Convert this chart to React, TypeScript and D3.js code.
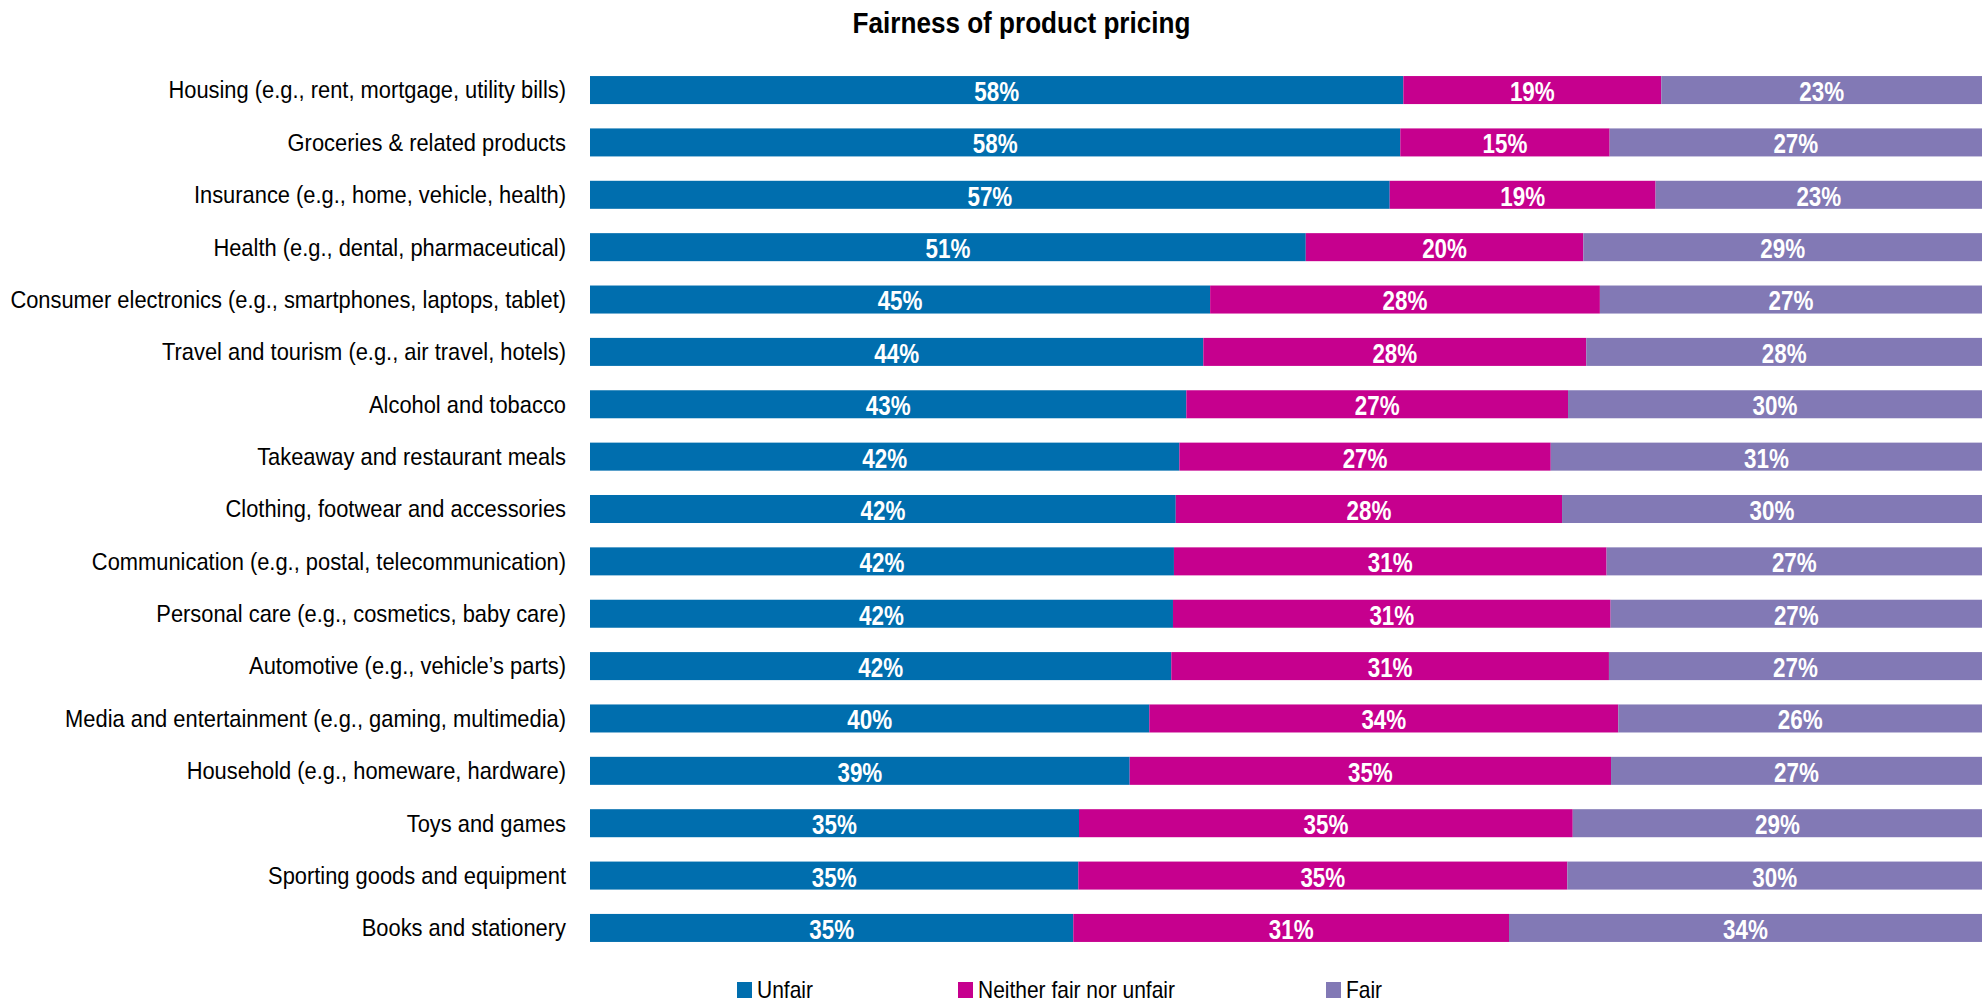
import React from 'react';
import * as d3 from 'd3';

// categories, top to bottom
const categories = [
  'Housing (e.g., rent, mortgage, utility bills)',
  'Groceries & related products',
  'Insurance (e.g., home, vehicle, health)',
  'Health (e.g., dental, pharmaceutical)',
  'Consumer electronics (e.g., smartphones, laptops, tablet)',
  'Travel and tourism (e.g., air travel, hotels)',
  'Alcohol and tobacco',
  'Takeaway and restaurant meals',
  'Clothing, footwear and accessories',
  'Communication (e.g., postal, telecommunication)',
  'Personal care (e.g., cosmetics, baby care)',
  'Automotive (e.g., vehicle\u2019s parts)',
  'Media and entertainment (e.g., gaming, multimedia)',
  'Household (e.g., homeware, hardware)',
  'Toys and games',
  'Sporting goods and equipment',
  'Books and stationery',
];

// shares in %
const unfair = [58.43, 58.21, 57.45, 51.42, 44.55, 44.06, 42.84, 42.34, 42.08, 41.95, 41.88, 41.76, 40.18, 38.77, 35.13, 35.08, 34.72];
const neither = [18.53, 15.04, 19.1, 19.94, 28.0, 27.51, 27.42, 26.68, 27.75, 31.08, 31.44, 31.44, 33.69, 34.58, 35.47, 35.13, 31.3];
const fair = [23.04, 26.75, 23.45, 28.64, 27.45, 28.43, 29.74, 30.98, 30.17, 26.97, 26.68, 26.8, 26.13, 26.65, 29.4, 29.79, 33.98];

const seriesKeys = ['unfair', 'neither', 'fair'];
const seriesNames = ['Unfair', 'Neither fair nor unfair', 'Fair'];
const colors = ['#006EAE', '#C6008E', '#8279B5'];

const W = 1982;
const H = 1005;
const FONT = '"Liberation Sans", Arial, sans-serif';

// legend item left edges (layout)
const legendX = [737, 958, 1326];

export default function App() {
  const rows = categories.map((c, i) => ({
    category: c,
    unfair: unfair[i],
    neither: neither[i],
    fair: fair[i],
  }));

  const stack = d3.stack<any>().keys(seriesKeys);
  const layers = stack(rows);

  const x = d3.scaleLinear().domain([0, 100]).range([590, 1982]);
  const y = d3
    .scaleBand<string>()
    .domain(categories)
    .range([51.7, 966.3])
    .paddingInner(0.465)
    .paddingOuter(0.465);

  return (
    <div style={{ position: 'absolute', left: 0, top: 0 }}>
      <svg width={W} height={H} style={{ display: 'block' }} fontFamily={FONT}>
        <rect width={W} height={H} fill="#fff" />
        <g transform="translate(1021.5,33) scale(0.9,1)">
          <text textAnchor="middle" fontSize={29} fontWeight="bold" fill="#000">
            Fairness of product pricing
          </text>
        </g>

        {categories.map((c) => (
          <g key={c} transform={`translate(566,${y(c)! + y.bandwidth() / 2}) scale(0.912,1)`}>
            <text textAnchor="end" dominantBaseline="central" fontSize={24} fill="#000">
              {c}
            </text>
          </g>
        ))}

        {layers.map((layer, li) => (
          <g key={layer.key} fill={colors[li]}>
            {layer.map((d, i) => (
              <rect
                key={i}
                x={x(d[0])}
                y={y(categories[i])}
                width={x(d[1]) - x(d[0])}
                height={y.bandwidth()}
              />
            ))}
          </g>
        ))}

        {layers.map((layer) => (
          <g key={'lbl-' + layer.key}>
            {layer.map((d, i) => {
              const cx = (x(d[0]) + x(d[1])) / 2;
              const cy = y(categories[i])! + y.bandwidth() / 2;
              return (
                <g key={i} transform={`translate(${cx},${cy + 1}) scale(0.8,1)`}>
                  <text
                    textAnchor="middle"
                    dominantBaseline="central"
                    fontSize={28}
                    fontWeight="bold"
                    fill="#fff"
                  >
                    {Math.round(d[1] - d[0]) + '%'}
                  </text>
                </g>
              );
            })}
          </g>
        ))}

        {seriesNames.map((name, i) => (
          <g key={name} transform={`translate(${legendX[i]},990)`}>
            <rect x={0} y={-8} width={15} height={16} fill={colors[i]} />
            <g transform="translate(20,0) scale(0.912,1)">
              <text dominantBaseline="central" fontSize={23} fill="#000">
                {name}
              </text>
            </g>
          </g>
        ))}
      </svg>
    </div>
  );
}
